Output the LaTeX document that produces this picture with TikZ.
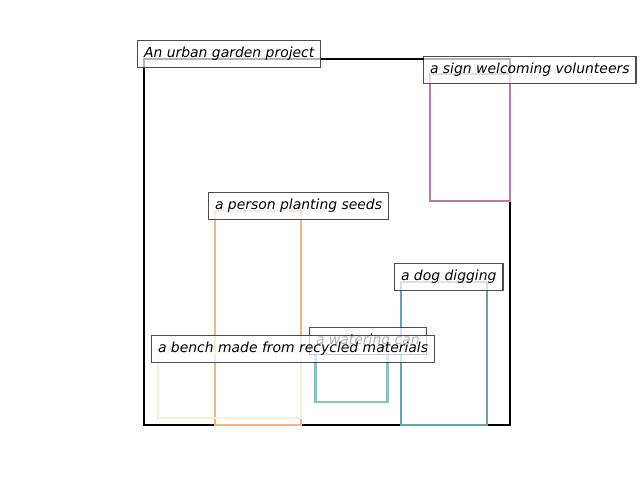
\documentclass[tikz,border=0pt]{standalone}
\usepackage{fontspec}
\newfontfamily\labelfont{DejaVu Sans}
\definecolor{benchcol}{HTML}{FDEFD6}
\definecolor{personcol}{HTML}{F0B68A}
\definecolor{cancol}{HTML}{86C3C3}
\definecolor{dogcol}{HTML}{68A1B3}
\definecolor{signcol}{HTML}{B87AAE}
\begin{document}
\begin{tikzpicture}[
        x=0.025cm, y=-0.025cm,
        region/.style={line width=1.8pt, draw},
        scene/.style={line width=1.6pt, draw=black},
        tag/.style={anchor=west, draw=black, draw opacity=0.7, fill=white, fill opacity=0.7, text opacity=1, line width=0.8pt, inner xsep=4.6pt, minimum height=0.675cm, font=\labelfont\itshape\fontsize{9.9}{12}\selectfont}
    ]
        \useasboundingbox (0,0) rectangle (640,480);
        % Whole scene
        \draw[scene] (144,59) rectangle (510,425);

        % Object regions
        \draw[region, draw=signcol] (430,74) rectangle (510,201);
        \draw[region, draw=personcol] (215,211) rectangle (301,425);
        \draw[region, draw=dogcol] (401,282) rectangle (487,425);
        \draw[region, draw=cancol] (315.5,345) rectangle (387.5,402);
        \draw[region, draw=benchcol] (158,353) rectangle (301,418);

        % Labels
        \node[tag] (scene_tag) at (137,54) {An urban garden project};
        \node[tag] (sign_tag) at (423,70) {a sign welcoming volunteers};
        \node[tag] (person_tag) at (208,206) {a person planting seeds};
        \node[tag] (dog_tag) at (394,277) {a dog digging};
        \node[tag] (can_tag) at (309,341) {a watering can};
        \node[tag] (bench_tag) at (151,349) {a bench made from recycled materials};
    \end{tikzpicture}
\end{document}
